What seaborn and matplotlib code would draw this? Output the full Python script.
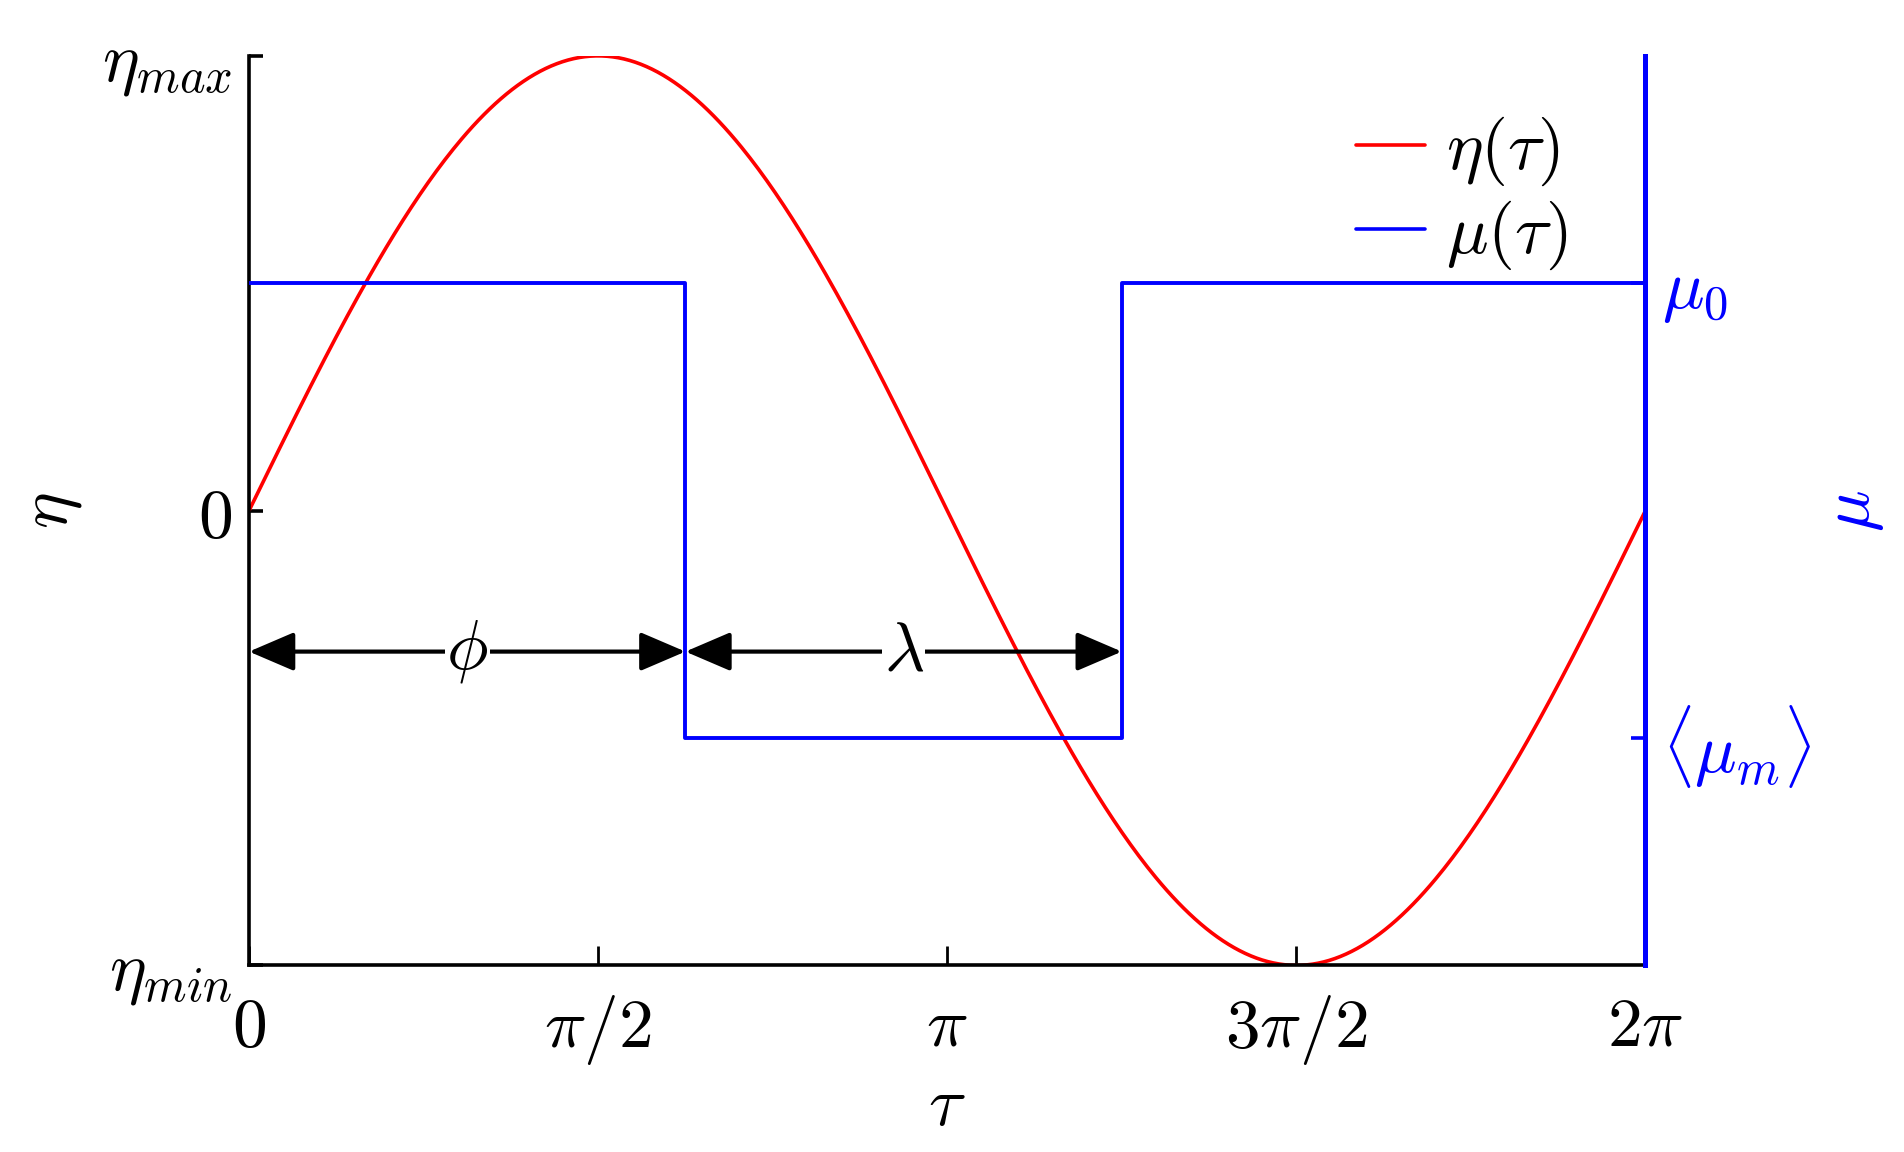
import numpy as np
import matplotlib
matplotlib.use("Agg")
import matplotlib.pyplot as plt
import seaborn as sns
from matplotlib.lines import Line2D

# ---- data ----
tau_ticks = [0, np.pi / 2, np.pi, 3 * np.pi / 2, 2 * np.pi]
tau_tick_labels = [r"$0$", r"$\pi/2$", r"$\pi$", r"$3\pi/2$", r"$2\pi$"]
eta_ticks = [-1, 0, 1]
eta_tick_labels = [r"$\eta_{min}$", r"$0$", r"$\eta_{max}$"]
eta_amplitude = 1.0
tau_curve = np.linspace(0, 2 * np.pi, 500)
eta_curve = eta_amplitude * np.sin(tau_curve)  # eta(tau) = sin(tau)

phi = 5 * np.pi / 8
lam = 5 * np.pi / 8
mu_0 = 0.5
mu_m = -0.5
mu_tau = [0, phi, phi + lam, 2 * np.pi]
mu_vals = [mu_0, mu_m, mu_0, mu_0]
mu_ticks = [mu_m, mu_0]
mu_tick_labels = [r"$\langle\mu_m\rangle$", r"$\mu_0$"]
arrow_eta = -0.31

# ---- style ----
sns.set_theme(style="white")
plt.rcParams["mathtext.fontset"] = "cm"
plt.rcParams["font.family"] = ["DejaVu Serif", "DejaVu Sans"]
plt.rcParams["text.color"] = "black"
plt.rcParams["axes.labelcolor"] = "black"

FS = 50
fig = plt.figure(figsize=(19.04, 11.52), dpi=100)
ax = fig.add_axes([0.1308, 0.162, 0.7334, 0.7895])

sns.lineplot(x=tau_curve, y=eta_curve, ax=ax, color="red", lw=2.6,
             sort=False, estimator=None)
ax.set_xlim(0, 2 * np.pi)
ax.set_ylim(-1, 1)

ax2 = ax.twinx()
sns.lineplot(x=mu_tau, y=mu_vals, ax=ax2, color="blue", lw=2.8,
             drawstyle="steps-post", sort=False, estimator=None)
ax2.set_ylim(-1, 1)

# spines
for s in ["top", "right"]:
    ax.spines[s].set_visible(False)
for s in ["left", "bottom"]:
    ax.spines[s].set_color("black")
    ax.spines[s].set_linewidth(2.6)
for s in ["top", "left", "bottom"]:
    ax2.spines[s].set_visible(False)
ax2.spines["right"].set_color("blue")
ax2.spines["right"].set_linewidth(3.6)

# ticks
ax.set_xticks(tau_ticks)
ax.set_xticklabels(tau_tick_labels)
ax.set_yticks(eta_ticks)
ax.set_yticklabels(eta_tick_labels)
ax.tick_params(axis="x", direction="in", length=14, width=2, pad=20,
               labelsize=FS, colors="black", bottom=True)
ax.tick_params(axis="y", direction="in", length=10, width=2.6, pad=12,
               labelsize=FS, colors="black", left=True)
ax2.set_yticks(mu_ticks)
ax2.set_yticklabels(mu_tick_labels)
ax2.tick_params(axis="y", direction="in", length=10, width=2.6, pad=12,
                labelsize=FS, colors="blue", right=True)

ax.set_xlabel(r"$\tau$", fontsize=FS, color="black", labelpad=4)
ax.set_ylabel(r"$\eta$", fontsize=FS, color="black")
ax.yaxis.set_label_coords(-0.118, 0.5)
ax2.set_ylabel(r"$\mu$", fontsize=FS, color="blue", rotation=90)
ax2.yaxis.set_label_coords(1.125, 0.5)

# arrows
for x0, x1, lab in [(0, phi, r"$\phi$"), (phi, phi + lam, r"$\lambda$")]:
    ax.annotate("", xy=(x1, arrow_eta), xytext=(x0, arrow_eta),
                arrowprops=dict(arrowstyle="<|-|>,head_length=1.4,head_width=0.6",
                                lw=3, color="black", shrinkA=0, shrinkB=0,
                                mutation_scale=20))
    ax.text((x0 + x1) / 2, arrow_eta, lab, fontsize=FS, ha="center", va="center",
            color="black",
            bbox=dict(facecolor="white", edgecolor="none", pad=1))

# legend
handles = [Line2D([], [], color="red", lw=2.6), Line2D([], [], color="blue", lw=2.6)]
leg = ax2.legend(handles, [r"$\eta(\tau)$", r"$\mu(\tau)$"], loc="upper right",
                 bbox_to_anchor=(0.944, 0.935), frameon=False, fontsize=FS,
                 handlelength=1.0, handletextpad=0.3, labelspacing=0.15,
                 borderaxespad=0, borderpad=0)
for t in leg.get_texts():
    t.set_color("black")

fig.savefig("out.png", dpi=100, facecolor="white")
